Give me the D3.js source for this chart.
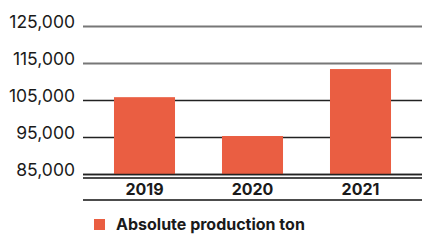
<!DOCTYPE html>
<html>
<head>
<meta charset="utf-8">
<script src="https://cdn.jsdelivr.net/npm/d3@7"></script>
<style>
  body { margin: 0; background: #fff; }
  text { font-family: Inter, "Liberation Sans", sans-serif; fill: #1a1a1a; }
</style>
</head>
<body>
<svg id="chart" width="422" height="243"></svg>
<script>
// Chart data
var years = ["2019", "2020", "2021"];
var production = [105900, 95400, 113500];
var yTicks = [85000, 95000, 105000, 115000, 125000];
var legendLabel = "Absolute production ton";

var svg = d3.select("#chart");

// Scales
var y = d3.scaleLinear().domain([85000, 125000]).range([174.5, 26.5]);
var x = d3.scaleBand().domain(years).range([90.5, 414.5])
    .paddingInner(0.435).paddingOuter(0.2175);

// Gridlines (upper ones lighter grey)
svg.append("g").selectAll("line")
    .data(yTicks)
    .enter().append("line")
    .attr("x1", 83).attr("x2", 422)
    .attr("y1", function(d) { return y(d); })
    .attr("y2", function(d) { return y(d); })
    .attr("stroke", function(d) { return d >= 115000 ? "#777" : "#222"; })
    .attr("stroke-width", function(d) { return d >= 115000 ? 2 : 1.5; });

// Tick labels
svg.append("g").selectAll("text")
    .data(yTicks)
    .enter().append("text")
    .attr("x", 75)
    .attr("y", function(d) { return y(d) + 1; })
    .attr("text-anchor", "end")
    .style("font-size", "17.5px")
    .text(d3.format(","));

// Bars
svg.append("g").selectAll("rect")
    .data(production)
    .enter().append("rect")
    .attr("x", function(d, i) { return x(years[i]); })
    .attr("width", x.bandwidth())
    .attr("y", function(d) { return y(d); })
    .attr("height", function(d) { return y(85000) - y(d); })
    .attr("fill", "#ea5e42");

// Baseline double line and bottom rule
svg.append("line").attr("x1", 83).attr("x2", 422).attr("y1", 174.5).attr("y2", 174.5)
    .attr("stroke", "#222").attr("stroke-width", 1.5);
svg.append("line").attr("x1", 83).attr("x2", 422).attr("y1", 178).attr("y2", 178)
    .attr("stroke", "#111").attr("stroke-width", 1.5);
svg.append("line").attr("x1", 83).attr("x2", 422).attr("y1", 200).attr("y2", 200)
    .attr("stroke", "#111").attr("stroke-width", 1.5);

// Year labels
svg.append("g").selectAll("text")
    .data(years)
    .enter().append("text")
    .attr("x", function(d) { return x(d) + x.bandwidth() / 2; })
    .attr("y", 195)
    .attr("text-anchor", "middle")
    .style("font-size", "16px")
    .style("font-weight", "bold")
    .text(function(d) { return d; });

// Legend
svg.append("rect").attr("x", 94).attr("y", 219).attr("width", 11).attr("height", 11)
    .attr("fill", "#ea5e42");
svg.append("text").attr("x", 116).attr("y", 230)
    .style("font-size", "16px")
    .style("font-weight", "bold")
    .text(legendLabel);
</script>
</body>
</html>
